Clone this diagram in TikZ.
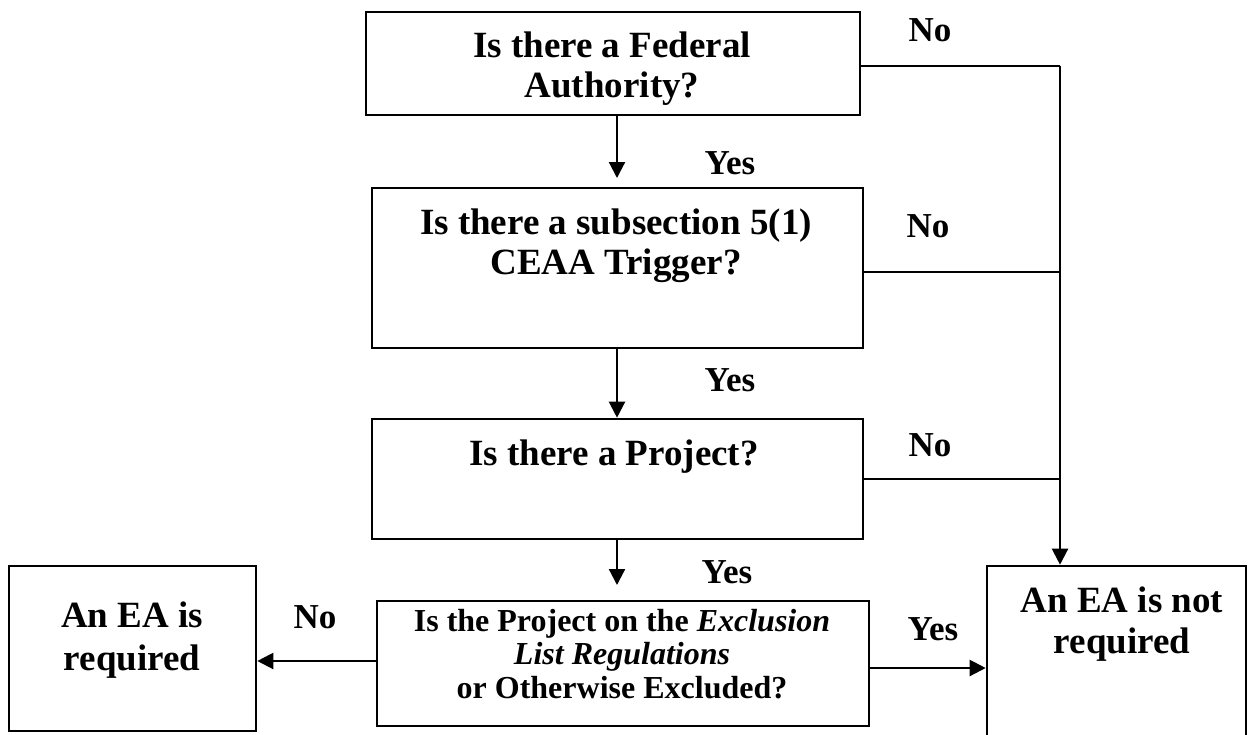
\documentclass[tikz,border=0pt]{standalone}
\usepackage{fontspec}
\setmainfont{Liberation Serif}
\usetikzlibrary{arrows.meta}
\begin{document}
\begin{tikzpicture}[x=1pt,y=-1pt,
  box/.style={draw,line width=2.6pt,rectangle,inner sep=0pt},
  bigtext/.style={inner sep=0pt,align=center,font=\fontsize{37}{40}\selectfont\bfseries},
  smalltext/.style={inner sep=0pt,align=center,font=\fontsize{32}{33.5}\selectfont\bfseries},
  answer/.style={inner sep=0pt,font=\fontsize{35}{40}\selectfont\bfseries},
  link/.style={line width=2.2pt},
  arr/.style={line width=2.2pt,-{Triangle[length=16pt,width=16pt]}}]
\useasboundingbox (0,0) rectangle (1252,734);
\clip (0,0) rectangle (1252,734);

% decision boxes
\node[box,minimum width=494pt,minimum height=103pt] (q1) at (613,63.5) {};
\node[box,minimum width=491pt,minimum height=160pt] (q2) at (617.5,268) {};
\node[box,minimum width=491pt,minimum height=120pt] (q3) at (617.5,479) {};
\node[box,minimum width=492pt,minimum height=125pt] (q4) at (623,663.5) {};
% outcome boxes
\node[box,minimum width=247pt,minimum height=165pt] (req) at (132.5,648.5) {};
\node[box,minimum width=259pt,minimum height=240pt] (notreq) at (1116.5,686) {};

% box texts
\node[bigtext] (t1) at (612,69) {Is there a Federal\\Authority?};
\node[bigtext] (t2) at (616,246) {Is there a subsection 5(1)\\CEAA Trigger?};
\node[bigtext] (t3) at (614,456.5) {Is there a Project?};
\node[smalltext] (t4) at (622,654) {Is the Project on the \textit{Exclusion}\\\textit{List Regulations}\\or Otherwise Excluded?};
\node[bigtext,font=\fontsize{37}{43}\selectfont\bfseries] (t5) at (132,640) {An EA is\\required};
\node[bigtext,font=\fontsize{37}{41}\selectfont\bfseries] (t6) at (1122,624) {An EA is not\\required};

% answer labels
\node[answer] (n1) at (930,30) {No};
\node[answer] (y1) at (730,163) {Yes};
\node[answer] (n2) at (928,226) {No};
\node[answer] (y2) at (730,380) {Yes};
\node[answer] (n3) at (930,445) {No};
\node[answer] (y3) at (727,572) {Yes};
\node[answer] (n4) at (315,617) {No};
\node[answer] (y4) at (933,629) {Yes};

% main "Yes" path
\coordinate (ax) at (617,0);
\coordinate (e1) at (617,178);
\coordinate (e3) at (617,585);
\draw[arr] (e1 |- q1.south) -- (e1);
\draw[arr] (ax |- q2.south) -- (ax |- q3.north);
\draw[arr] (e3 |- q3.south) -- (e3);

% side exits of the last question
\draw[arr] (q4.west |- 0,661) -- (req.east |- 0,661);
\draw[arr] (q4.east |- 0,668) -- (notreq.west |- 0,668);

% "No" rail on the right
\coordinate (rail) at (1060,66);
\draw[link] (q1.east |- rail) -- (rail);
\draw[link] (q2.east |- 0,272) -- (rail |- 0,272);
\draw[link] (q3.east |- 0,479) -- (rail |- 0,479);
\draw[arr] (rail) -- (rail |- notreq.north);
\end{tikzpicture}
\end{document}
